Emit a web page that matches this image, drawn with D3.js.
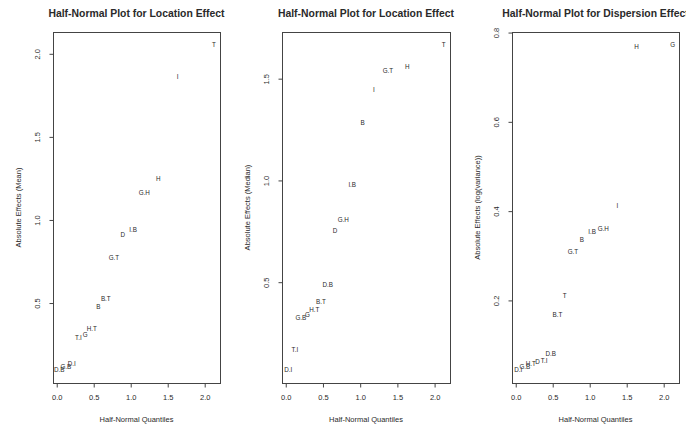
<!DOCTYPE html>
<html><head><meta charset="utf-8">
<script src="https://cdn.jsdelivr.net/npm/d3@7"></script>
<style>body{margin:0;background:#fff}svg{display:block}text{font-family:"Liberation Sans",Arial,sans-serif;fill:#2a2a2a}</style>
</head><body><svg id="c" width="686" height="428"></svg>
<script>
// Half-normal quantiles (x positions)
const quantiles = [0.04, 0.13, 0.21, 0.30, 0.39, 0.48, 0.57, 0.67, 0.78, 0.90, 1.04, 1.19, 1.38, 1.64, 2.13];

// Panel 1: location effect (mean)
const labelsMean  = ["D.B","G.B","D.I","T.I","G","H.T","B","B.T","G.T","D","I.B","G.H","H","I","T"];
const effectsMean = [0.094,0.112,0.130,0.282,0.300,0.336,0.470,0.518,0.767,0.906,0.936,1.160,1.240,1.858,2.050];

// Panel 2: location effect (median)
const labelsMedian  = ["D.I","T.I","G.B","G","H.T","B.T","D.B","D","G.H","I.B","B","I","G.T","H","T"];
const effectsMedian = [0.066,0.165,0.318,0.337,0.357,0.400,0.480,0.746,0.800,0.973,1.278,1.441,1.534,1.554,1.663];

// Panel 3: dispersion effect (log variance)
const labelsDisp  = ["D.I","G.B","H.T","D","T.I","D.B","B.T","T","G.T","B","I.B","G.H","I","H","G"];
const effectsDisp = [0.043,0.049,0.056,0.061,0.063,0.079,0.166,0.207,0.306,0.333,0.352,0.357,0.409,0.766,0.771];

const titles  = ["Half-Normal Plot for Location Effect","Half-Normal Plot for Location Effect","Half-Normal Plot for Dispersion Effect"];
const yTitles = ["Absolute Effects (Mean)","Absolute Effects (Median)","Absolute Effects (log(variance))"];
const xTitle  = "Half-Normal Quantiles";
const xTicks  = [0.0, 0.5, 1.0, 1.5, 2.0];
const yTicksMean   = [0.5, 1.0, 1.5, 2.0];
const yTicksMedian = [0.5, 1.0, 1.5];
const yTicksDisp   = [0.2, 0.4, 0.6, 0.8];

const panels = [
  {labels: labelsMean,   values: effectsMean,   yTicks: yTicksMean,   left: 53,  right: 220},
  {labels: labelsMedian, values: effectsMedian, yTicks: yTicksMedian, left: 282, right: 450},
  {labels: labelsDisp,   values: effectsDisp,   yTicks: yTicksDisp,   left: 512, right: 679}
];
const plotTop = 32, plotBottom = 383;
const svg = d3.select("#c");

function padded(ext){ const d = (ext[1]-ext[0])*0.04; return [ext[0]-d, ext[1]+d]; }

panels.forEach((p, k) => {
  const x = d3.scaleLinear().domain(padded(d3.extent(quantiles))).range([p.left, p.right]);
  const y = d3.scaleLinear().domain(padded(d3.extent(p.values))).range([plotBottom, plotTop]);
  const g = svg.append("g");

  g.append("rect").attr("x", p.left+0.5).attr("y", plotTop+0.5)
    .attr("width", p.right-p.left).attr("height", plotBottom-plotTop)
    .attr("fill","none").attr("stroke","#444").attr("stroke-width",1);

  // x axis
  const xa = d3.axisBottom(x).tickValues(xTicks).tickSize(4).tickFormat(d3.format(".1f"));
  const gx = g.append("g").attr("transform", `translate(0.5,${plotBottom+0.5})`).call(xa);
  gx.select(".domain").attr("stroke","#444").attr("d", `M${x(xTicks[0])},0H${x(xTicks[xTicks.length-1])}`);
  gx.selectAll(".tick line").attr("stroke","#444");
  gx.selectAll(".tick text").attr("y", 11).attr("font-size", 7.5).attr("fill","#2a2a2a")
    .style("font-family","Liberation Sans, Arial, sans-serif");

  // y axis
  const ya = d3.axisLeft(y).tickValues(p.yTicks).tickSize(4).tickFormat(d3.format(".1f"));
  const gy = g.append("g").attr("transform", `translate(${p.left+0.5},0.5)`).call(ya);
  gy.select(".domain").attr("stroke","#444").attr("d", `M0,${y(p.yTicks[0])}V${y(p.yTicks[p.yTicks.length-1])}`);
  gy.selectAll(".tick line").attr("stroke","#444");
  gy.selectAll(".tick text").attr("x", null).attr("dy", null)
    .attr("transform","translate(-15,0) rotate(-90)")
    .attr("text-anchor","middle").attr("dominant-baseline","middle")
    .attr("font-size", 7.5).attr("fill","#2a2a2a")
    .style("font-family","Liberation Sans, Arial, sans-serif");

  // title
  g.append("text").attr("x",(p.left+p.right)/2).attr("y",17).attr("text-anchor","middle")
    .attr("font-size",10.4).attr("font-weight","bold").text(titles[k]);
  // x title
  g.append("text").attr("x",(p.left+p.right)/2).attr("y",422).attr("text-anchor","middle")
    .attr("font-size",7.5).text(xTitle);
  // y title
  g.append("text").attr("transform",`translate(${p.left-34},${(plotTop+plotBottom)/2}) rotate(-90)`)
    .attr("text-anchor","middle").attr("dominant-baseline","middle")
    .attr("font-size",7.5).text(yTitles[k]);

  // point labels
  g.selectAll("text.pt").data(p.labels).join("text").attr("class","pt")
    .attr("x",(d,i)=>x(quantiles[i])).attr("y",(d,i)=>y(p.values[i]))
    .attr("text-anchor","middle").attr("dominant-baseline","middle")
    .attr("font-size",6.3).text(d=>d);
});
</script></body></html>
